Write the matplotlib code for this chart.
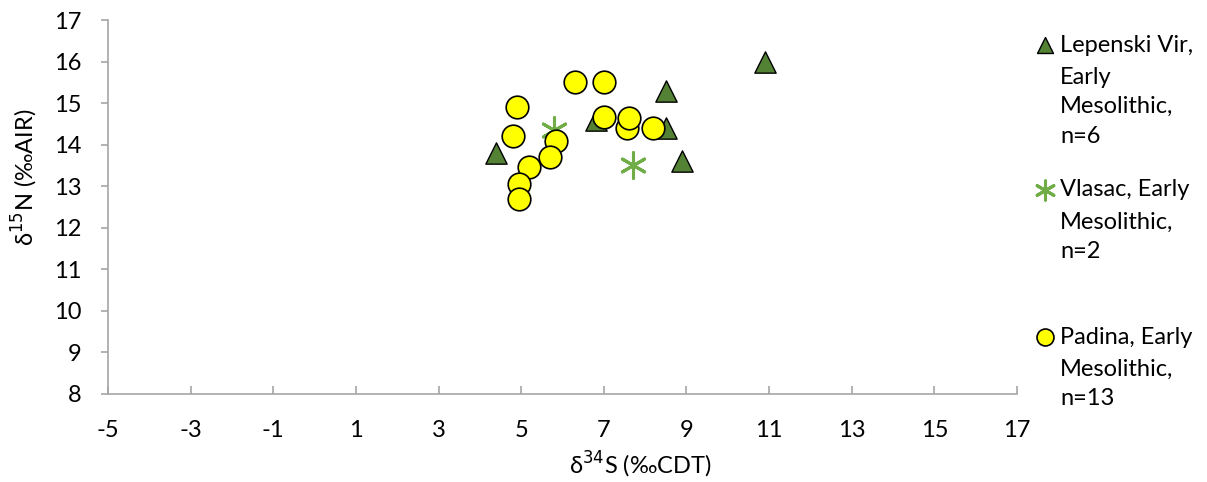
import matplotlib.pyplot as plt
from matplotlib.ticker import FixedLocator

plt.rcParams['font.family'] = ['Lato', 'DejaVu Sans']

# Lepenski Vir, Early Mesolithic
lv_s = [4.4, 6.8, 8.5, 8.5, 8.9, 10.9]
lv_n = [13.8, 14.6, 15.3, 14.4, 13.6, 16.0]

# Vlasac, Early Mesolithic
vl_s = [5.8, 7.7]
vl_n = [14.35, 13.5]

# Padina, Early Mesolithic
pa_s = [4.9, 4.8, 6.3, 7.0, 7.0, 7.55, 7.6, 8.2, 5.85, 5.7, 5.2, 4.95, 4.95]
pa_n = [14.9, 14.2, 15.5, 15.5, 14.67, 14.4, 14.65, 14.4, 14.1, 13.7, 13.47, 13.05, 12.7]

x_ticks = [-5, -3, -1, 1, 3, 5, 7, 9, 11, 13, 15, 17]
y_ticks = [8, 9, 10, 11, 12, 13, 14, 15, 16, 17]

labels = [['Lepenski Vir,', 'Early', 'Mesolithic,', 'n=6'],
          ['Vlasac, Early', 'Mesolithic,', 'n=2'],
          ['Padina, Early', 'Mesolithic,', 'n=13']]

W, H = 1207, 482
fig = plt.figure(figsize=(W / 100, H / 100), dpi=100)
ax = fig.add_axes([108 / W, 1 - 394 / H, 909 / W, 374 / H])

h1 = ax.scatter(lv_s, lv_n, marker='^', s=235, color='#548235', edgecolor='black',
                linewidth=1, zorder=3)
h2 = ax.scatter(vl_s, vl_n, marker=(6, 2, 0), s=340, color='#70ad47', linewidth=2.2,
                zorder=3)
h3 = ax.scatter(pa_s, pa_n, marker='o', s=265, color='#ffff00', edgecolor='black',
                linewidth=1.2, zorder=4)

ax.set_xlim(-5, 17)
ax.set_ylim(8, 17)
ax.xaxis.set_major_locator(FixedLocator(x_ticks))
ax.yaxis.set_major_locator(FixedLocator(y_ticks))
ax.set_xticklabels([str(v) for v in x_ticks])
ax.set_yticklabels([str(v) for v in y_ticks])

for side in ['top', 'right']:
    ax.spines[side].set_visible(False)
for side in ['left', 'bottom']:
    ax.spines[side].set_color('#a6a6a6')
    ax.spines[side].set_linewidth(1.2)
ax.tick_params(axis='x', direction='in', length=6, color='#a6a6a6', width=1.2,
               labelsize=17, pad=19)
ax.tick_params(axis='y', direction='out', length=5, color='#a6a6a6', width=1.2,
               labelsize=17, pad=14)

ax.set_xlabel('δ$^{34}$S (‰CDT)', fontsize=17)
ax.xaxis.set_label_coords((640 - 108) / 909, -(450 - 394) / 374)
ax.set_ylabel('δ$^{15}$N (‰AIR)', fontsize=17)
ax.yaxis.set_label_coords(-(108 - 40) / 909, (394 - 177) / 374)

# legend: one entry per series, remaining lines as text below
first_y = [45, 190, 337]
pitch = 32
for h, lab, yp in zip([h1, h2, h3], labels, first_y):
    leg = fig.legend([h], [lab[0]], loc='center left',
                     bbox_to_anchor=(1033 / W, 1 - yp / H), frameon=False,
                     fontsize=17, handletextpad=0.15, handlelength=1.0,
                     borderpad=0, borderaxespad=0, markerscale=0.75)
    fig.canvas.draw()
    bb = leg.get_texts()[0].get_window_extent()
    fig.text(bb.x0 / W, (bb.y1 - pitch) / H, '\n'.join(lab[1:]), fontsize=17,
             va='top', ha='left', linespacing=1.52)

fig.savefig('out.png', dpi=100)
